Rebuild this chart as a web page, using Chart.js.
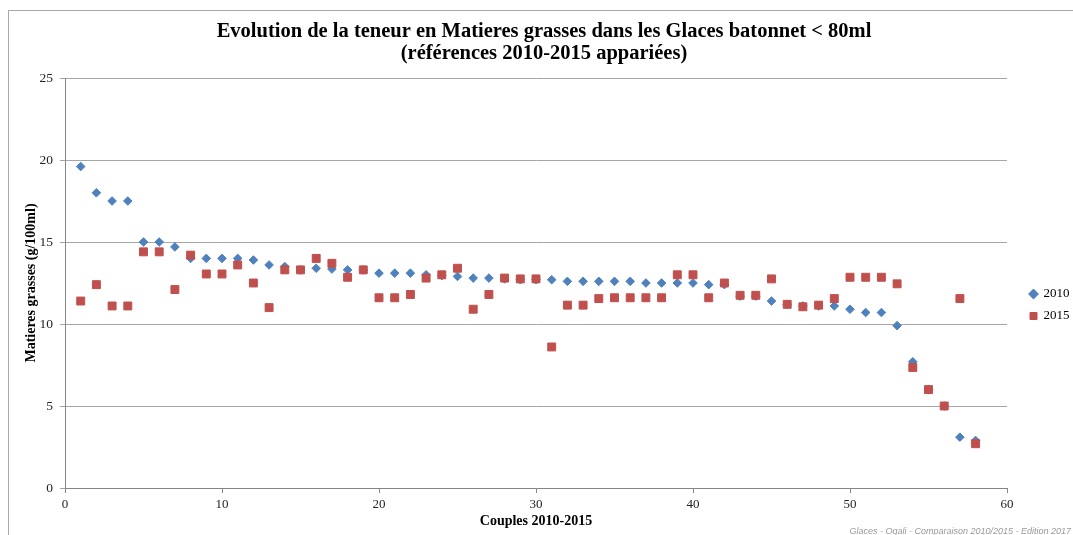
<!DOCTYPE html>
<html><head><meta charset="utf-8">
<script src="https://cdn.jsdelivr.net/npm/chart.js@4/dist/chart.umd.min.js"></script>
<style>html,body{margin:0;padding:0;background:#fff;overflow:hidden}canvas{display:block}</style>
</head><body>
<canvas id="c" width="1073" height="535"></canvas>
<script>
const couples = [1,2,3,4,5,6,7,8,9,10,11,12,13,14,15,16,17,18,19,20,21,22,23,24,25,26,27,28,29,30,31,32,33,34,35,36,37,38,39,40,41,42,43,44,45,46,47,48,49,50,51,52,53,54,55,56,57,58];
const mg2010 = [19.6,18.0,17.5,17.5,15.0,15.0,14.7,14.0,14.0,14.0,14.0,13.9,13.6,13.5,13.3,13.4,13.35,13.3,13.3,13.1,13.1,13.1,13.0,12.95,12.9,12.8,12.8,12.75,12.7,12.7,12.7,12.6,12.6,12.6,12.6,12.6,12.5,12.5,12.5,12.5,12.4,12.4,11.7,11.7,11.4,11.2,11.1,11.1,11.1,10.9,10.7,10.7,9.9,7.7,6.0,5.0,3.1,2.9];
const mg2015 = [11.4,12.4,11.1,11.1,14.4,14.4,12.1,14.2,13.05,13.05,13.6,12.5,11.0,13.3,13.3,14.0,13.7,12.85,13.3,11.6,11.6,11.8,12.8,13.0,13.4,10.9,11.8,12.8,12.75,12.75,8.6,11.15,11.15,11.55,11.6,11.6,11.6,11.6,13.0,13.0,11.6,12.5,11.75,11.75,12.75,11.2,11.05,11.15,11.55,12.85,12.85,12.85,12.45,7.35,6.0,5.0,11.55,2.7];
const xTicks = [0,10,20,30,40,50,60];
const yTicks = [0,5,10,15,20,25];
const seriesNames = ['2010','2015'];
const titleLines = ['Evolution de la teneur en Matieres grasses dans les Glaces batonnet < 80ml','(références 2010-2015 appariées)'];
const xTitle = 'Couples 2010-2015';
const yTitle = 'Matieres grasses (g/100ml)';
const footerText = 'Glaces - Oqali - Comparaison 2010/2015 - Edition 2017';

const SERIF = '"Liberation Serif", "DejaVu Serif", serif';
const toPts = (vals) => couples.map((c, i) => ({x: c, y: vals[i]}));

const chromePlugin = {
  id: 'chrome',
  beforeLayout(chart) {
    const lg = chart.legend;
    if (lg && !lg._fixedFit) {
      const f = lg.fit;
      lg.fit = function() { f.call(this); this.width = 66; };
      lg._fixedFit = true;
    }
  },
  afterLayout(chart) {
    const lg = chart.legend;
    if (lg) { lg.left += 14; lg.top += 44; }
  },
  beforeDraw(chart) {
    const ctx = chart.ctx;
    ctx.save();
    ctx.strokeStyle = '#a9a9a9';
    ctx.lineWidth = 1;
    ctx.strokeRect(8.5, 10.5, 1300, 1000);
    ctx.restore();
  },
  afterDraw(chart) {
    const ctx = chart.ctx;
    ctx.save();
    ctx.font = 'italic 9px "Liberation Sans", sans-serif';
    ctx.fillStyle = '#999999';
    ctx.textAlign = 'right';
    ctx.textBaseline = 'middle';
    ctx.fillText(footerText, 1071, 531);
    ctx.restore();
  }
};

new Chart(document.getElementById('c'), {
  type: 'scatter',
  data: {
    datasets: [
      { label: seriesNames[0], data: toPts(mg2010), pointStyle: 'rectRot', pointRadius: 4.3, pointHoverRadius: 4.3,
        backgroundColor: '#4F81BD', borderColor: '#4F81BD', borderWidth: 1, order: 1 },
      { label: seriesNames[1], data: toPts(mg2015), pointStyle: 'rect', pointRadius: 5.6, pointHoverRadius: 5.6,
        backgroundColor: '#C0504D', borderColor: '#C0504D', borderWidth: 1, order: 0 }
    ]
  },
  options: {
    responsive: false,
    animation: false,
    devicePixelRatio: 1,
    layout: { padding: { left: 15, right: 0, top: 0, bottom: 0 } },
    plugins: {
      tooltip: { enabled: false },
      title: {
        display: true, text: titleLines, color: '#000',
        font: { family: SERIF, size: 20.5, weight: 'bold', lineHeight: '22px' },
        padding: { top: 21, bottom: 13 }
      },
      legend: {
        display: true, position: 'right', fullSize: false,
        labels: {
          usePointStyle: true, boxWidth: 7, boxHeight: 7, color: '#000', padding: 9,
          font: { family: SERIF, size: 13 },
          sort: (a, b) => a.datasetIndex - b.datasetIndex
        }
      }
    },
    scales: {
      x: {
        type: 'linear', min: 0, max: 60,
        afterFit: (s) => { s.height = 47; },
        afterBuildTicks: (s) => { s.ticks = xTicks.map(v => ({ value: v })); },
        border: { display: true, color: '#868686', width: 1 },
        grid: { drawOnChartArea: false, drawTicks: true, tickLength: 5, color: '#868686' },
        ticks: { color: '#222', padding: 4, font: { family: SERIF, size: 13 }, maxRotation: 0 },
        title: { display: true, text: xTitle, color: '#000', font: { family: SERIF, size: 14, weight: 'bold' }, padding: { top: 0, bottom: 5 } }
      },
      y: {
        type: 'linear', min: 0, max: 25,
        afterFit: (s) => { s.width = 50; },
        afterBuildTicks: (s) => { s.ticks = yTicks.map(v => ({ value: v })); },
        border: { display: true, color: '#868686', width: 1 },
        grid: { drawOnChartArea: true, drawTicks: true, tickLength: 5, color: '#a6a6a6' },
        ticks: { color: '#222', padding: 7, font: { family: SERIF, size: 13.5 } },
        title: { display: true, text: yTitle, color: '#000', font: { family: SERIF, size: 14, weight: 'bold' }, padding: { top: 8, bottom: 0 } }
      }
    }
  },
  plugins: [chromePlugin]
});
</script>
</body></html>
